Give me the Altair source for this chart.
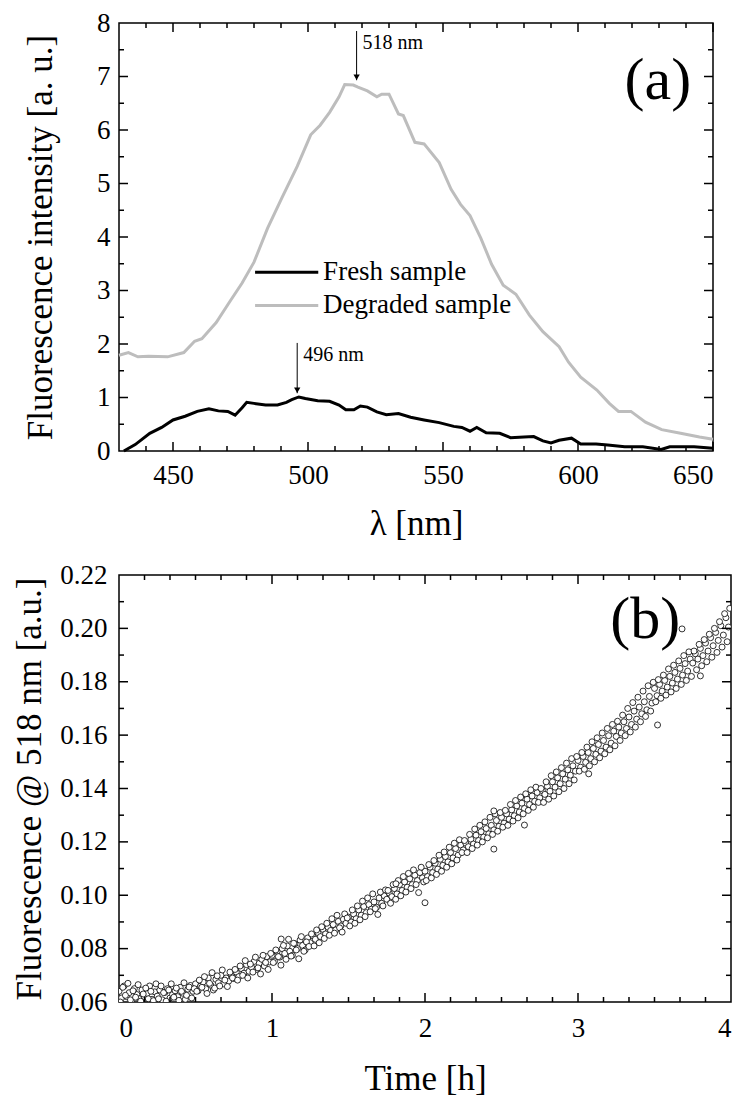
import altair as alt
import pandas as pd

FONT = "Liberation Serif"

# ---------------- Panel (a): emission spectra ----------------
wl_degraded = [430, 433.5, 437, 441, 448, 454, 458, 460.7, 466, 471,
               475.6, 480, 485, 490.5, 496, 501, 504.5, 508, 511.5, 513.6,
               516.8, 518.5, 522, 525.5, 527.3, 530, 533.5, 535.3, 539.6, 543,
               548.6, 553, 556.5, 560, 564, 568, 572.3, 577, 582, 587,
               593, 596.5, 601, 607, 611.6, 615, 619.6, 625, 631, 638,
               645, 650]
int_degraded = [1.79, 1.84, 1.76, 1.77, 1.76, 1.84, 2.05, 2.10, 2.40, 2.79,
                3.14, 3.53, 4.16, 4.75, 5.32, 5.91, 6.09, 6.33, 6.62, 6.85,
                6.84, 6.80, 6.73, 6.62, 6.67, 6.67, 6.30, 6.27, 5.77, 5.74,
                5.39, 4.89, 4.61, 4.40, 3.98, 3.49, 3.10, 2.93, 2.54, 2.23,
                1.95, 1.66, 1.38, 1.14, 0.89, 0.74, 0.74, 0.54, 0.40, 0.33,
                0.26, 0.22]

wl_fresh = [431.8, 436, 441.4, 445.8, 450, 454.5, 459, 463.3, 466.8, 470.3,
            473, 475.6, 477.3, 480, 484.3, 488.7, 492, 494, 496.6, 499,
            503.6, 508, 511.5, 514, 517, 519.4, 522, 525.5, 529, 533.5,
            538, 543, 548.6, 554, 557, 560, 562.5, 566, 571, 575,
            580, 583.6, 587, 590, 593, 597.6, 601, 606.7, 611, 617.3,
            624, 630.8, 634, 643, 650]
int_fresh = [0.00, 0.12, 0.33, 0.44, 0.58, 0.65, 0.74, 0.79, 0.75, 0.74,
             0.67, 0.81, 0.91, 0.89, 0.86, 0.86, 0.91, 0.96, 1.01, 0.98,
             0.94, 0.93, 0.86, 0.77, 0.77, 0.84, 0.82, 0.73, 0.68, 0.70,
             0.63, 0.58, 0.53, 0.46, 0.44, 0.37, 0.44, 0.34, 0.33, 0.25,
             0.26, 0.27, 0.19, 0.15, 0.20, 0.24, 0.13, 0.13, 0.11, 0.08,
             0.08, 0.03, 0.08, 0.08, 0.05]

series_names = ["Fresh sample", "Degraded sample"]
series_colors = ["#000000", "#bdbdbd"]

a_x_labels = [450, 500, 550, 600, 650]
a_x_minor = [440, 460, 470, 480, 490, 510, 520, 530, 540, 560, 570, 580, 590, 610, 620, 630, 640]
a_y_labels = [0, 1, 2, 3, 4, 5, 6, 7, 8]
a_y_major = [1, 2, 3, 4, 5, 6, 7]
a_y_minor = [0.5, 1.5, 2.5, 3.5, 4.5, 5.5, 6.5, 7.5]

peak_wl = [518, 496]
peak_text = ["518 nm", "496 nm"]
arrow_top = [7.85, 2.02]
arrow_tip = [6.93, 1.08]
text_y = [7.63, 1.80]

legend_y = [3.34, 2.72]

# ---------------- Panel (b): time trace ----------------
minutes = list(range(0, 240))
# readings on the whole minute
fluo_518 = [
    0.0640, 0.0615, 0.0660, 0.0620, 0.0635, 0.0605, 0.0650, 0.0628, 0.0612, 0.0645, 0.0618, 0.0632, 0.0660, 0.0610, 0.0638,
    0.0622, 0.0645, 0.0608, 0.0636, 0.0650, 0.0615, 0.0628, 0.0642, 0.0620, 0.0655, 0.0633, 0.0610, 0.0648, 0.0662, 0.0640,
    0.0668, 0.0642, 0.0660, 0.0675, 0.0650, 0.0690, 0.0663, 0.0645, 0.0685, 0.0672, 0.0700, 0.0668, 0.0690, 0.0678, 0.0705,
    0.0688, 0.0712, 0.0695, 0.0725, 0.0708, 0.0740, 0.0715, 0.0730, 0.0752, 0.0722, 0.0745, 0.0760, 0.0735, 0.0770, 0.0750,
    0.0775, 0.0752, 0.0790, 0.0768, 0.0800, 0.0782, 0.0810, 0.0790, 0.0775, 0.0818, 0.0800, 0.0832, 0.0812, 0.0795, 0.0840,
    0.0822, 0.0848, 0.0835, 0.0860, 0.0845, 0.0872, 0.0855, 0.0880, 0.0868, 0.0890, 0.0870, 0.0902, 0.0885, 0.0910, 0.0895,
    0.0918, 0.0900, 0.0930, 0.0912, 0.0945, 0.0925, 0.0958, 0.0935, 0.0965, 0.0948, 0.0975, 0.0955, 0.0990, 0.0970, 0.0998,
    0.0985, 0.1008, 0.0995, 0.1025, 0.1005, 0.1040, 0.1018, 0.1050, 0.1030, 0.1062, 0.1040, 0.1075, 0.1055, 0.1085, 0.1065,
    0.1090, 0.1070, 0.1105, 0.1085, 0.1120, 0.1098, 0.1135, 0.1112, 0.1145, 0.1125, 0.1160, 0.1140, 0.1175, 0.1150, 0.1188,
    0.1170, 0.1195, 0.1182, 0.1210, 0.1192, 0.1225, 0.1205, 0.1238, 0.1218, 0.1250, 0.1230, 0.1262, 0.1245, 0.1280, 0.1258,
    0.1292, 0.1270, 0.1305, 0.1285, 0.1320, 0.1298, 0.1335, 0.1312, 0.1345, 0.1325, 0.1360, 0.1340, 0.1372, 0.1352, 0.1385,
    0.1365, 0.1392, 0.1378, 0.1408, 0.1390, 0.1425, 0.1405, 0.1440, 0.1418, 0.1455, 0.1435, 0.1470, 0.1450, 0.1485, 0.1465,
    0.1505, 0.1480, 0.1520, 0.1498, 0.1535, 0.1512, 0.1550, 0.1528, 0.1565, 0.1540, 0.1580, 0.1555, 0.1598, 0.1570, 0.1615,
    0.1595, 0.1630, 0.1608, 0.1650, 0.1625, 0.1668, 0.1640, 0.1690, 0.1660, 0.1705, 0.1680, 0.1725, 0.1695, 0.1745, 0.1720,
    0.1775, 0.1748, 0.1790, 0.1765, 0.1805, 0.1780, 0.1820, 0.1795, 0.1835, 0.1810, 0.1850, 0.1825, 0.1868, 0.1840, 0.1885,
    0.1870, 0.1905, 0.1885, 0.1925, 0.1898, 0.1945, 0.1915, 0.1965, 0.1935, 0.1985, 0.1955, 0.2010, 0.1975, 0.2040, 0.2005,
]
# readings on the half minute
fluo_518_half = [
    0.0600, 0.0655, 0.0625, 0.0670, 0.0608, 0.0642, 0.0618, 0.0665, 0.0603, 0.0630, 0.0652, 0.0612, 0.0640, 0.0605, 0.0668,
    0.0612, 0.0660, 0.0635, 0.0603, 0.0645, 0.0668, 0.0618, 0.0652, 0.0606, 0.0640, 0.0672, 0.0625, 0.0656, 0.0615, 0.0650,
    0.0640, 0.0682, 0.0655, 0.0695, 0.0632, 0.0670, 0.0710, 0.0652, 0.0698, 0.0660, 0.0720, 0.0682, 0.0658, 0.0712, 0.0690,
    0.0722, 0.0682, 0.0735, 0.0700, 0.0755, 0.0690, 0.0742, 0.0712, 0.0768, 0.0728, 0.0705, 0.0775, 0.0748, 0.0722, 0.0782,
    0.0748, 0.0795, 0.0770, 0.0738, 0.0812, 0.0760, 0.0835, 0.0772, 0.0820, 0.0795, 0.0762, 0.0845, 0.0790, 0.0825, 0.0808,
    0.0855, 0.0810, 0.0870, 0.0822, 0.0882, 0.0838, 0.0895, 0.0850, 0.0912, 0.0858, 0.0925, 0.0878, 0.0862, 0.0930, 0.0915,
    0.0885, 0.0945, 0.0895, 0.0960, 0.0908, 0.0978, 0.0920, 0.0990, 0.0938, 0.1005, 0.0950, 0.0928, 0.1012, 0.0960, 0.1020,
    0.1018, 0.0970, 0.1040, 0.0985, 0.1055, 0.0998, 0.1070, 0.1012, 0.1082, 0.1025, 0.1095, 0.1040, 0.1010, 0.1105, 0.1050,
    0.1055, 0.1115, 0.1065, 0.1130, 0.1078, 0.1150, 0.1090, 0.1162, 0.1105, 0.1180, 0.1118, 0.1195, 0.1132, 0.1208, 0.1160,
    0.1205, 0.1160, 0.1228, 0.1175, 0.1248, 0.1188, 0.1262, 0.1200, 0.1275, 0.1215, 0.1292, 0.1228, 0.1305, 0.1240, 0.1310,
    0.1255, 0.1318, 0.1262, 0.1340, 0.1278, 0.1355, 0.1290, 0.1368, 0.1305, 0.1380, 0.1318, 0.1395, 0.1330, 0.1405, 0.1348,
    0.1400, 0.1348, 0.1425, 0.1360, 0.1448, 0.1372, 0.1462, 0.1388, 0.1478, 0.1400, 0.1495, 0.1418, 0.1512, 0.1432, 0.1520,
    0.1465, 0.1535, 0.1472, 0.1555, 0.1485, 0.1575, 0.1500, 0.1590, 0.1515, 0.1608, 0.1530, 0.1625, 0.1545, 0.1640, 0.1560,
    0.1652, 0.1580, 0.1675, 0.1598, 0.1700, 0.1612, 0.1722, 0.1630, 0.1742, 0.1650, 0.1765, 0.1670, 0.1785, 0.1690, 0.1798,
    0.1725, 0.1808, 0.1738, 0.1825, 0.1750, 0.1848, 0.1762, 0.1862, 0.1775, 0.1878, 0.1790, 0.1898, 0.1805, 0.1912, 0.1820,
    0.1915, 0.1845, 0.1940, 0.1860, 0.1958, 0.1875, 0.1978, 0.1892, 0.2000, 0.1910, 0.2025, 0.1930, 0.2055, 0.1950, 0.2075,
]
# isolated outlying readings [h], [a.u.]
outlier_t = [1.06, 1.81, 2.00, 2.45, 2.45, 2.65, 3.07, 3.52, 3.68, 3.80]
outlier_f = [0.0836, 0.1043, 0.0972, 0.1316, 0.1173, 0.1263, 0.1455, 0.1638, 0.1998, 0.1822]

b_x_labels = [0, 1, 2, 3, 4]
b_x_major = [1, 2, 3]
b_x_minor = [round(k / 6, 4) for k in range(1, 24) if k % 6]
b_y_labels = [0.06, 0.08, 0.10, 0.12, 0.14, 0.16, 0.18, 0.20, 0.22]
b_y_major = [0.08, 0.10, 0.12, 0.14, 0.16, 0.18, 0.20]
b_y_minor = [0.07, 0.09, 0.11, 0.13, 0.15, 0.17, 0.19, 0.21]

# ---------------- geometry ----------------
WA, HA = 594, 428
WB, HB = 612, 427
MAJ, MIN = 9, 5
TICK_W = 1.5

# ---- shared scales / axes
xs_a = alt.Scale(domain=[430, 650], nice=False, zero=False)
ys_a = alt.Scale(domain=[0, 8], nice=False)
ax_a_x = alt.Axis(title="λ [nm]", values=a_x_labels, format="d", labelPadding=11, titlePadding=18)
ax_a_y = alt.Axis(title="Fluorescence intensity [a. u.]", values=a_y_labels, format="d",
                  labelPadding=9, titlePadding=38)

xs_b = alt.Scale(domain=[0, 4], nice=False)
ys_b = alt.Scale(domain=[0.06, 0.22], nice=False, zero=False)
ax_b_x = alt.Axis(title="Time [h]", values=b_x_labels, format="d", labelPadding=13, titlePadding=20)
ax_b_y = alt.Axis(title="Fluorescence @ 518 nm [a.u.]", values=b_y_labels, format=".2f",
                  labelPadding=12, titlePadding=12)


def X(field, sc, ax):
    return alt.X(field, scale=sc, axis=ax)


def Y(field, sc, ax):
    return alt.Y(field, scale=sc, axis=ax)


def tick_layers(xs, ys, axx, axy, xmaj, xmin, ymaj, ymin, W, H):
    layers = []
    for vals, L in ((xmaj, MAJ), (xmin, MIN)):
        d = pd.DataFrame({"v": vals})
        base = alt.Chart(d).mark_rule(color="black", strokeWidth=TICK_W)
        layers.append(base.encode(x=X("v:Q", xs, axx), y=alt.value(H), y2=alt.value(H - L)))
        layers.append(base.encode(x=X("v:Q", xs, axx), y=alt.value(0), y2=alt.value(L)))
    for vals, L in ((ymaj, MAJ), (ymin, MIN)):
        d = pd.DataFrame({"v": vals})
        base = alt.Chart(d).mark_rule(color="black", strokeWidth=TICK_W)
        layers.append(base.encode(y=Y("v:Q", ys, axy), x=alt.value(0), x2=alt.value(L)))
        layers.append(base.encode(y=Y("v:Q", ys, axy), x=alt.value(W), x2=alt.value(W - L)))
    return layers


# ---- panel (a)
col = alt.Scale(domain=series_names, range=series_colors)

spec_df = pd.concat([
    pd.DataFrame({"wl": wl_degraded, "I": int_degraded, "series": "Degraded sample", "o": range(len(wl_degraded))}),
    pd.DataFrame({"wl": wl_fresh, "I": int_fresh, "series": "Fresh sample", "o": range(len(wl_fresh))}),
])

lines_a = alt.Chart(spec_df).mark_line(strokeWidth=3).encode(
    x=X("wl:Q", xs_a, ax_a_x),
    y=Y("I:Q", ys_a, ax_a_y),
    color=alt.Color("series:N", scale=col, legend=None),
    detail="series:N",
    order="o:Q",
)

ann_df = pd.DataFrame({"wl": peak_wl, "top": arrow_top, "tip": arrow_tip,
                       "ty": text_y, "label": peak_text})
arrow_lines = alt.Chart(ann_df).mark_rule(color="black", strokeWidth=1).encode(
    x=X("wl:Q", xs_a, ax_a_x), y=Y("top:Q", ys_a, ax_a_y), y2="tip:Q")
arrow_heads = alt.Chart(ann_df).mark_point(shape="triangle-down", filled=True, color="black",
                                           size=40, opacity=1, yOffset=-3).encode(
    x=X("wl:Q", xs_a, ax_a_x), y=Y("tip:Q", ys_a, ax_a_y))
arrow_text = alt.Chart(ann_df).mark_text(font=FONT, fontSize=20, align="left", dx=6,
                                         baseline="middle", color="black").encode(
    x=X("wl:Q", xs_a, ax_a_x), y=Y("ty:Q", ys_a, ax_a_y), text="label:N")

leg_df = pd.DataFrame({"series": series_names, "y": legend_y,
                       "x0": [480.4, 480.4], "x1": [503.8, 503.8], "xt": [505.6, 505.6]})
leg_lines = alt.Chart(leg_df).mark_rule(strokeWidth=3).encode(
    x=X("x0:Q", xs_a, ax_a_x), x2="x1:Q", y=Y("y:Q", ys_a, ax_a_y),
    color=alt.Color("series:N", scale=col, legend=None))
leg_text = alt.Chart(leg_df).mark_text(font=FONT, fontSize=27, align="left", baseline="middle",
                                       color="black").encode(
    x=X("xt:Q", xs_a, ax_a_x), y=Y("y:Q", ys_a, ax_a_y), text="series:N")

panel_a_lab = alt.Chart(pd.DataFrame({"x": [629.6], "y": [6.92], "t": ["(a)"]})).mark_text(
    font=FONT, fontSize=60, baseline="middle", align="center", color="black").encode(
    x=X("x:Q", xs_a, ax_a_x), y=Y("y:Q", ys_a, ax_a_y), text="t:N")

chart_a = alt.layer(
    lines_a, arrow_lines, arrow_heads, arrow_text, leg_lines, leg_text, panel_a_lab,
    *tick_layers(xs_a, ys_a, ax_a_x, ax_a_y, a_x_labels, a_x_minor, a_y_major, a_y_minor, WA, HA)
).properties(width=WA, height=HA)

# ---- panel (b)
time_df = pd.concat([
    pd.DataFrame({"t": [m / 60 for m in minutes], "f": fluo_518}),
    pd.DataFrame({"t": [(m + 0.5) / 60 for m in minutes], "f": fluo_518_half}),
    pd.DataFrame({"t": outlier_t, "f": outlier_f}),
])
scatter_b = alt.Chart(time_df).mark_point(shape="circle", filled=False, color="black",
                                          fill="white", fillOpacity=1, strokeWidth=0.8,
                                          size=36, opacity=1, clip=True).encode(
    x=X("t:Q", xs_b, ax_b_x), y=Y("f:Q", ys_b, ax_b_y))
panel_b_lab = alt.Chart(pd.DataFrame({"x": [3.44], "y": [0.2031], "t": ["(b)"]})).mark_text(
    font=FONT, fontSize=60, baseline="middle", align="center", color="black").encode(
    x=X("x:Q", xs_b, ax_b_x), y=Y("y:Q", ys_b, ax_b_y), text="t:N")

chart_b = alt.layer(
    scatter_b, panel_b_lab,
    *tick_layers(xs_b, ys_b, ax_b_x, ax_b_y, b_x_major, b_x_minor, b_y_major, b_y_minor, WB, HB)
).properties(width=WB, height=HB)

chart = alt.vconcat(chart_a, chart_b, spacing=124, bounds="flush").properties(
    padding={"left": 4, "top": 0, "right": 0, "bottom": 0},
    background="white",
).configure_view(stroke="black", strokeWidth=1.5).configure_axis(
    labelFont=FONT, titleFont=FONT, labelFontSize=27, titleFontSize=35,
    titleFontWeight="normal", labelColor="black", titleColor="black",
    grid=False, ticks=False, domain=False,
)

chart.save("out.html", embed_options={"renderer": "svg", "actions": False})
